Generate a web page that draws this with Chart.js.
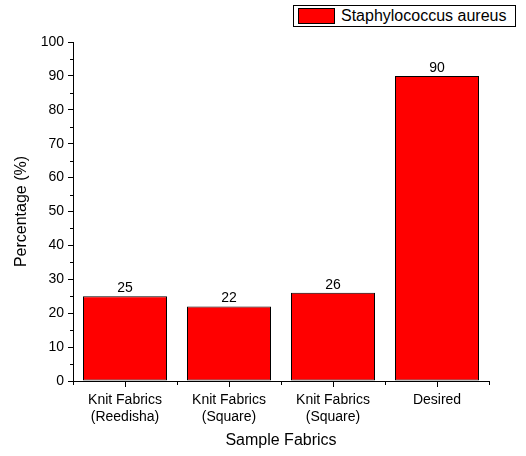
<!DOCTYPE html>
<html><head><meta charset="utf-8">
<script src="https://cdn.jsdelivr.net/npm/chart.js@4.4.1/dist/chart.umd.min.js"></script>
<style>
body{margin:0;background:#fff;}
#wrap{position:relative;width:526px;height:456px;}
#legend{position:absolute;left:293px;top:5px;width:221px;height:20px;border:1px solid #000;font-family:"Liberation Sans",Arial,sans-serif;font-size:16px;color:#000;background:#fff;}
#legend .sw{position:absolute;left:4px;top:2px;width:37px;height:16px;background:#ff0000;border:1px solid #000;box-sizing:border-box;}
#legend .tx{position:absolute;left:47px;top:1px;white-space:nowrap;}
</style></head>
<body>
<div id="wrap">
<canvas id="c" width="526" height="456"></canvas>
<div id="legend"><div class="sw"></div><div class="tx">Staphylococcus aureus</div></div>
</div>
<script>
const categories = [["Knit Fabrics","(Reedisha)"],["Knit Fabrics","(Square)"],["Knit Fabrics","(Square)"],["Desired"]];
const seriesName = "Staphylococcus aureus";
const values = [25, 22, 26, 90];
const yTicks = [0,10,20,30,40,50,60,70,80,90,100];
const yMinorTicks = [5,15,25,35,45,55,65,75,85,95];

const FONT = '"Liberation Sans", Arial, sans-serif';

const extras = {
  id:'extras',
  afterDraw(chart){
    const ctx = chart.ctx;
    const x = chart.scales.x, y = chart.scales.y;
    ctx.save();
    ctx.strokeStyle = '#000'; ctx.lineWidth = 1;
    yMinorTicks.forEach(v=>{
      const py = Math.round(y.getPixelForValue(v))+0.5;
      ctx.beginPath(); ctx.moveTo(x.left-3, py); ctx.lineTo(x.left, py); ctx.stroke();
    });
    categories.forEach((c,i)=>{
      const px = Math.round(x.getPixelForValue(i))+0.5;
      ctx.beginPath(); ctx.moveTo(px, y.bottom); ctx.lineTo(px, y.bottom+6); ctx.stroke();
    });
    ctx.fillStyle = '#000';
    ctx.font = '14px ' + FONT;
    ctx.textAlign = 'center'; ctx.textBaseline = 'bottom';
    const meta = chart.getDatasetMeta(0);
    meta.data.forEach((el,i)=>{
      ctx.fillText(String(values[i]), el.x, el.y - 1);
    });
    ctx.restore();
  }
};

new Chart(document.getElementById('c'), {
  type:'bar',
  data:{
    labels: categories,
    datasets:[{
      label: seriesName,
      data: values,
      backgroundColor:'#ff0000',
      borderColor:'#000',
      borderWidth:1,
      borderSkipped:false,
      categoryPercentage:84/104,
      barPercentage:1.0
    }]
  },
  options:{
    responsive:false,
    devicePixelRatio:1,
    animation:false,
    layout:{padding:{left:0,top:42,right:37,bottom:0}},
    plugins:{legend:{display:false},tooltip:{enabled:false}},
    scales:{
      y:{
        min:0,max:100,
        afterBuildTicks(s){ s.ticks = yTicks.map(v=>({value:v})); },
        afterFit(s){ s.width = 73; },
        ticks:{color:'#000',font:{family:FONT,size:14},padding:4},
        grid:{drawOnChartArea:false,tickLength:5,color:'#000'},
        border:{color:'#000',width:1},
        title:{display:true,text:'Percentage (%)',color:'#000',font:{family:FONT,size:16},padding:{top:12,bottom:0}}
      },
      x:{
        offset:true,
        afterFit(s){ s.height = 75; },
        ticks:{color:'#000',font:{family:FONT,size:14,lineHeight:1.25},padding:6,maxRotation:0,autoSkip:false},
        grid:{offset:true,drawOnChartArea:false,tickLength:4,color:'#000'},
        border:{color:'#000',width:1},
        title:{display:true,text:'Sample Fabrics',color:'#000',font:{family:FONT,size:16},padding:{top:0,bottom:6}}
      }
    }
  },
  plugins:[extras]
});
</script>
</body></html>
